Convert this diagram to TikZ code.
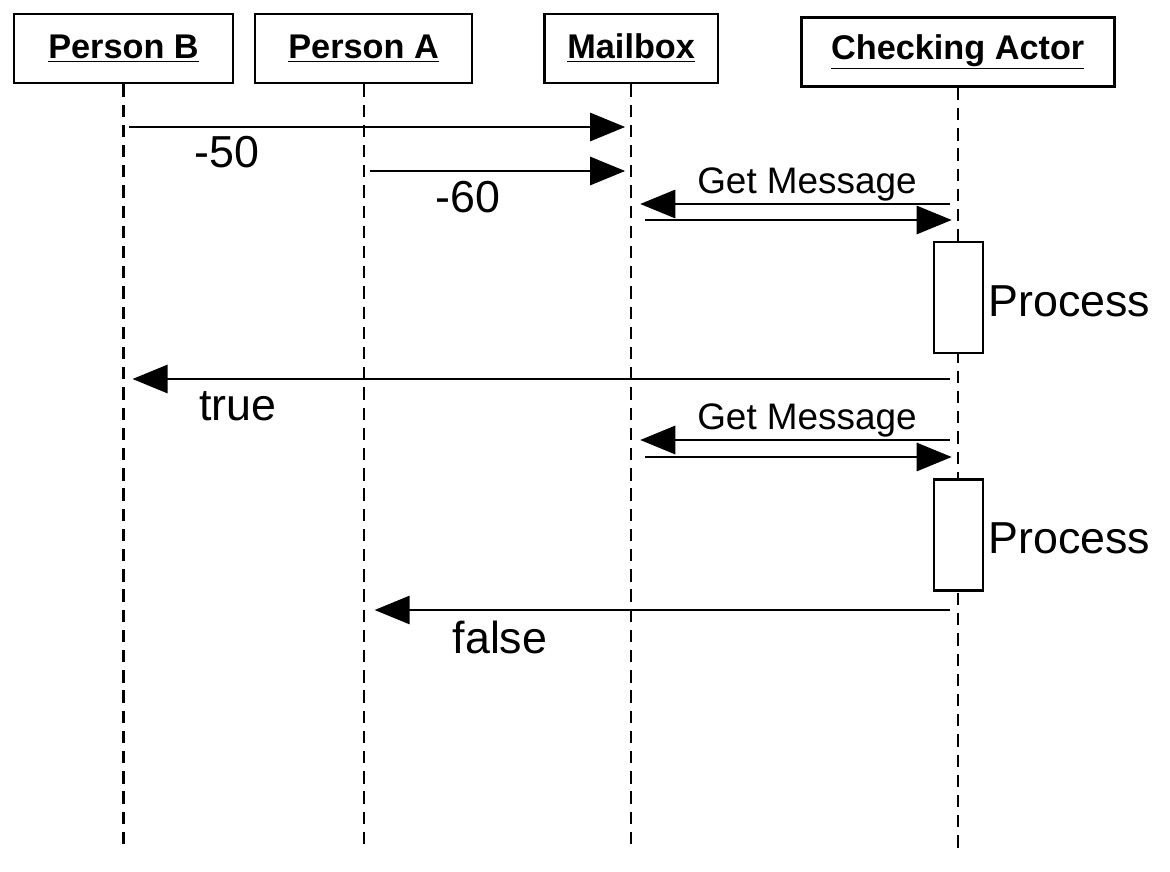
\documentclass[tikz,border=0pt]{standalone}
\usepackage{fontspec}
\setmainfont{Liberation Sans}
\usetikzlibrary{positioning,arrows.meta}

\begin{document}
\begin{tikzpicture}[x=0.02cm, y=-0.02cm,
  actor/.style={draw, line width=1.5pt, rectangle, minimum height=1.38cm, font=\fontsize{19.5}{23}\selectfont\bfseries},
  lifeline/.style={line width=1.2pt, dash pattern=on 7pt off 4.5pt},
  msg/.style={line width=1.6pt, -{Triangle[length=20pt, width=16pt]}},
  actbox/.style={draw, line width=1.5pt, fill=white, minimum width=0.98cm, minimum height=2.22cm},
  biglbl/.style={font=\fontsize{25.5}{30}\selectfont, inner sep=0pt, anchor=base},
  smalllbl/.style={font=\fontsize{21}{25}\selectfont, inner sep=0pt, anchor=base}]
  \useasboundingbox (0,0) rectangle (1170,872);

  % Actors
  \node [actor, minimum width=4.38cm] (pb) at (123.5,48.5) {\underline{Person B}};
  \node [actor, minimum width=4.34cm, right=0.39cm of pb] (pa) {\underline{Person A}};
  \node [actor, minimum width=3.48cm, right=1.39cm of pa] (mb) {\underline{Mailbox}};
  \node [actor, minimum width=6.26cm, right=1.61cm of mb, yshift=-0.07cm] (ca) {\underline{Checking Actor}};

  % Lifelines
  \draw [lifeline] (pb) -- (pb |- 0,850);
  \draw [lifeline] (pa) -- (pa |- 0,850);
  \draw [lifeline] (mb) -- (mb |- 0,850);
  \draw [lifeline] (ca) -- (ca |- 0,853);

  % Activations
  \node [actbox] (act1) at (958.5,297.5) {};
  \node [actbox] (act2) at (958.5,535) {};
  \node [biglbl, anchor=base west] (proc1) at (988,316) {Process};
  \node [biglbl, anchor=base west] (proc2) at (988,553) {Process};

  % Messages
  \draw [msg, shorten <=0.12cm, shorten >=0.12cm] (pb |- 0,127) -- (mb |- 0,127);
  \node [biglbl] (m50) at (227,167) {-50};
  \draw [msg, shorten <=0.12cm, shorten >=0.12cm] (pa |- 0,171) -- (mb |- 0,171);
  \node [biglbl] (m60) at (468,212) {-60};

  \node [smalllbl] (get1) at (807,193) {Get Message};
  \draw [msg, shorten <=0.16cm, shorten >=0.18cm] (ca |- 0,204) -- (mb |- 0,204);
  \draw [msg, shorten <=0.28cm, shorten >=0.12cm] (mb |- 0,220) -- (ca |- 0,220);

  \draw [msg, shorten <=0.16cm, shorten >=0.18cm] (ca |- 0,379) -- (pb |- 0,379);
  \node [biglbl] (tru) at (238,420) {true};

  \node [smalllbl] (get2) at (807,429) {Get Message};
  \draw [msg, shorten <=0.16cm, shorten >=0.18cm] (ca |- 0,440) -- (mb |- 0,440);
  \draw [msg, shorten <=0.28cm, shorten >=0.12cm] (mb |- 0,457) -- (ca |- 0,457);

  \draw [msg, shorten <=0.16cm, shorten >=0.22cm] (ca |- 0,610) -- (pa |- 0,610);
  \node [biglbl] (fls) at (500,653) {false};
\end{tikzpicture}
\end{document}
